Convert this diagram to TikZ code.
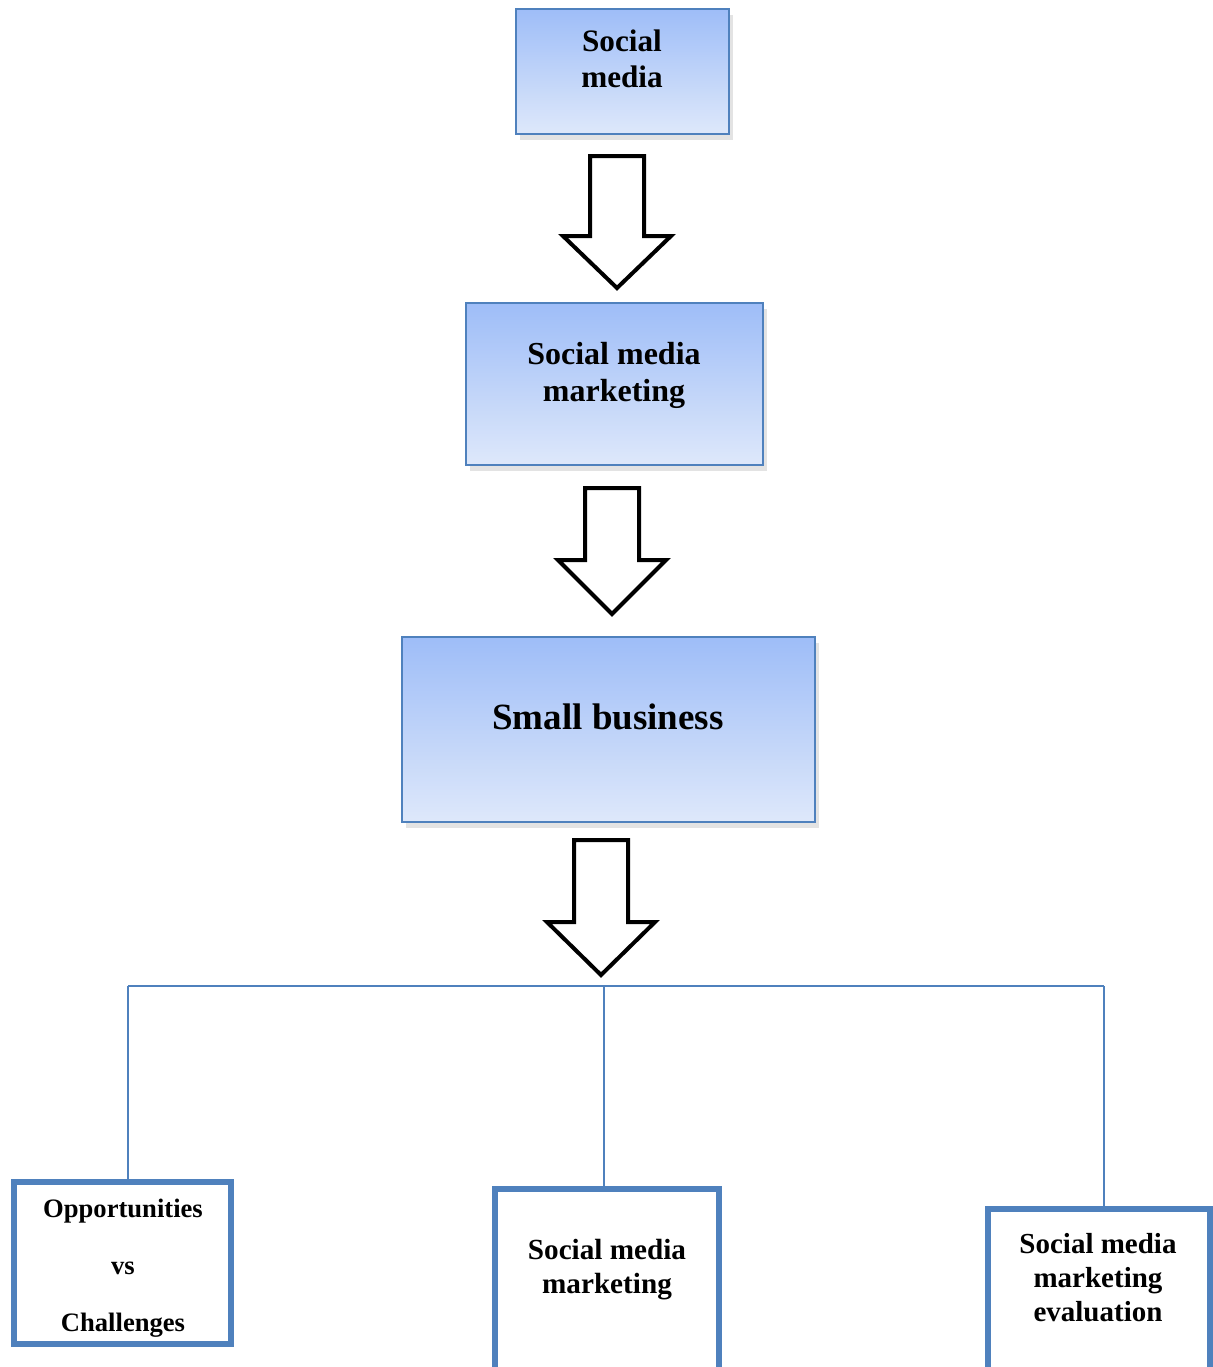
\documentclass[tikz,border=0pt]{standalone}
\usepackage{fontspec}
\setmainfont{Liberation Serif}
\usetikzlibrary{shadows}
\definecolor{boxline}{RGB}{79,129,189}
\definecolor{boxtop}{RGB}{158,189,248}
\definecolor{boxbot}{RGB}{222,232,250}
\tikzset{
	flowbox/.style={draw=boxline, line width=1pt, top color=boxtop, bottom color=boxbot, inner sep=0pt,
		drop shadow={opacity=0.22, shadow xshift=2pt, shadow yshift=-3pt}},
	leafbox/.style={draw=boxline, line width=3pt, fill=white, inner sep=0pt},
	bigarrow/.style={draw=black, line width=2pt, fill=white, line join=miter},
	link/.style={draw=boxline, line width=0.75pt},
	boxtext/.style={align=center, inner sep=0pt}
}
\def\hollowarrow(#1,#2:#3:#4){\draw[bigarrow] (#1-27,#2) -- (#1+27,#2) -- (#1+27,#3) -- (#1+54,#3) -- (#1,#4) -- (#1-54,#3) -- (#1-27,#3) -- cycle;}

\begin{document}
\begin{tikzpicture}[x=0.5pt, y=-0.5pt]
		%%%%% START %%%%%
		\useasboundingbox (0,0) rectangle (1212,1367);
		
		% top chain
		\node[flowbox, minimum width=106.5pt, minimum height=62.5pt] (media) at (622.5,71.5) {};
		\node[boxtext, font=\fontsize{15.6pt}{18pt}\selectfont\bfseries] (mediaText) at (622,59) {Social\\media};
		
		\hollowarrow(617,156:236:288)
		
		\node[flowbox, minimum width=148.5pt, minimum height=81pt] (smm) at (614.5,384) {};
		\node[boxtext, font=\fontsize{16pt}{18.5pt}\selectfont\bfseries] (smmText) at (614,375) {Social media\\marketing};
		
		\hollowarrow(612,488:560:614)
		
		\node[flowbox, minimum width=206.5pt, minimum height=92.5pt] (business) at (608.5,729.5) {};
		\node[boxtext, font=\fontsize{18.5pt}{22pt}\selectfont\bfseries] (businessText) at (608,717) {Small business};
		
		\hollowarrow(601,840:922:975)
		
		% bottom row
		\node[leafbox, minimum width=108.5pt, minimum height=81pt] (opport) at (122.5,1262.5) {};
		\node[leafbox, minimum width=112pt, minimum height=115.5pt] (smmLeaf) at (606.5,1304.5) {};
		\node[leafbox, minimum width=111pt, minimum height=105.5pt] (evaluation) at (1098.5,1314.5) {};
		
		\node[boxtext, font=\fontsize{13.3pt}{28.5pt}\selectfont\bfseries] (opportText) at (123,1268) {Opportunities\\vs\\Challenges};
		\node[boxtext, font=\fontsize{14.6pt}{17pt}\selectfont\bfseries] (smmLeafText) at (607,1270) {Social media\\marketing};
		\node[boxtext, font=\fontsize{14.5pt}{17pt}\selectfont\bfseries] (evaluationText) at (1098,1278) {Social media\\marketing\\evaluation};
		
		% tree lines
		\coordinate (forkA) at (128,986);
		\coordinate (forkB) at (604,986);
		\coordinate (forkC) at (1104,986);
		\draw[link] (forkA) -- (forkC);
		\draw[link] (forkA) -- (forkA |- opport.north);
		\draw[link] (forkB) -- (forkB |- smmLeaf.north);
		\draw[link] (forkC) -- (forkC |- evaluation.north);
		
		%%%%% END %%%%%
	\end{tikzpicture}
\end{document}
